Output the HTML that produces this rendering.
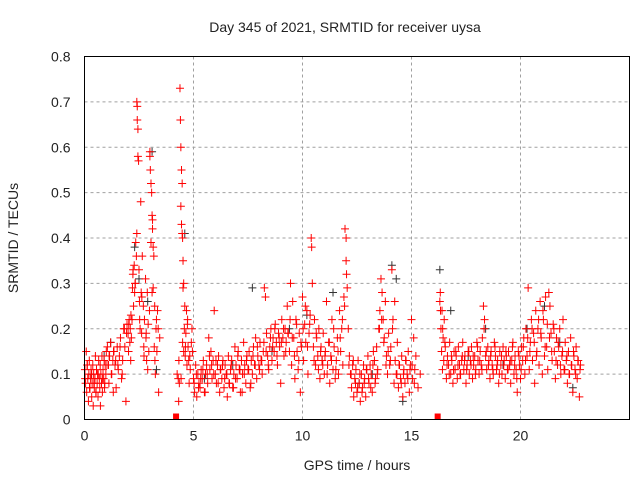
<!DOCTYPE html>
<html><head><meta charset="utf-8"><style>
body{margin:0;background:#fff}
svg text{font-family:"Liberation Sans",sans-serif;font-size:14px;fill:#222}
</style></head><body>
<svg id="chart" width="640" height="480" xmlns="http://www.w3.org/2000/svg">
<rect width="640" height="480" fill="#fff"/>
<text x="345" y="32" text-anchor="middle">Day 345 of 2021, SRMTID for receiver uysa</text>
<g id="grid"></g>
<g id="ticks"></g>
<g id="marks"></g>
<rect x="84.5" y="56.5" width="545" height="363" fill="none" stroke="#000" stroke-width="1"/>
<text x="357" y="470" text-anchor="middle">GPS time / hours</text>
<text transform="translate(18,238) rotate(-90)" text-anchor="middle">SRMTID / TECUs</text>
</svg>
<script>
const xTicks=[0,5,10,15,20];
const yTicks=[0,0.1,0.2,0.3,0.4,0.5,0.6,0.7,0.8];
const yTickLabels=["0","0.1","0.2","0.3","0.4","0.5","0.6","0.7","0.8"];
const redT=[0.02,0.05,0.08,0.1,0.12,0.15,0.18,0.2,0.22,0.25,0.28,0.3,0.33,0.35,0.38,0.4,0.42,0.45,0.48,0.5,0.52,0.55,0.58,0.6,0.62,0.65,0.68,0.7,0.72,0.75,0.78,0.8,0.82,0.85,0.88,0.9,0.92,0.95,0.98,1.0,
1.05,1.1,1.12,1.15,1.2,1.25,1.3,1.32,1.35,1.4,1.45,1.5,1.55,1.6,1.65,1.7,1.75,1.8,1.85,1.9,1.95,2.0,2.02,2.05,2.08,2.1,2.12,2.15,2.18,2.2,
2.22,2.25,2.28,2.3,2.32,2.35,2.38,2.4,2.4,2.42,2.42,2.45,2.45,2.48,2.5,2.52,2.55,2.58,2.6,2.62,2.65,2.7,2.72,2.75,2.8,2.82,2.85,2.88,2.9,2.92,
2.95,2.98,3.0,3.0,3.02,3.05,3.05,3.08,3.1,3.1,3.12,3.12,3.15,3.15,3.18,3.2,3.22,3.25,3.28,3.3,3.32,3.35,3.4,3.45,
4.25,4.3,4.32,4.35,4.38,4.4,4.42,4.42,4.45,4.45,4.48,4.48,4.5,4.5,4.52,4.52,4.55,4.55,4.58,4.6,4.62,4.65,4.68,4.7,4.72,4.75,4.78,4.8,4.85,4.9,4.95,
5.0,5.05,5.1,5.15,5.2,5.25,5.3,5.35,5.4,5.45,5.5,5.55,5.6,5.65,5.7,5.75,5.8,5.85,5.9,5.95,6.0,6.05,6.1,6.15,6.2,6.25,6.3,6.35,6.4,6.45,
6.5,6.55,6.6,6.65,6.7,6.75,6.8,6.85,6.9,6.95,7.0,7.05,7.1,7.15,7.2,7.25,7.3,7.35,7.4,7.45,7.5,7.55,7.6,7.65,7.7,7.75,7.8,7.85,7.9,7.95,
8.0,8.05,8.1,8.15,8.2,8.25,8.3,8.35,8.4,8.45,8.5,8.55,8.6,8.65,8.7,8.75,8.8,8.85,8.9,8.95,9.0,9.05,9.1,9.15,9.2,9.25,9.3,9.35,9.4,9.45,
9.5,9.55,9.6,9.65,9.7,9.75,9.8,9.85,9.9,9.95,10.0,10.05,10.1,10.15,10.2,10.25,10.3,10.35,10.4,10.42,10.45,10.5,10.55,10.6,10.65,10.7,10.75,10.8,10.85,10.9,
10.95,11.0,11.05,11.1,11.15,11.2,11.25,11.3,11.35,11.4,11.45,11.5,11.55,11.6,11.65,11.7,11.75,11.8,11.85,11.9,11.95,12.0,12.0,12.02,12.05,12.1,12.15,12.2,12.25,12.3,
12.35,12.4,12.45,12.5,12.55,12.6,12.65,12.7,12.75,12.8,12.85,12.9,12.95,13.0,13.05,13.1,13.15,13.2,13.25,13.3,13.35,13.4,13.45,13.5,13.55,13.6,13.65,13.7,13.75,13.8,
13.85,13.9,13.95,14.0,14.05,14.1,14.15,14.2,14.25,14.3,14.35,14.4,14.45,14.5,14.55,14.6,14.65,14.7,14.75,14.8,14.85,14.9,14.95,15.0,15.05,15.1,15.15,15.2,15.3,15.4,
16.3,16.32,16.35,16.38,16.4,16.42,16.45,16.48,16.5,16.55,16.6,16.65,16.7,16.75,16.8,16.85,16.9,16.95,17.0,17.05,17.1,17.15,17.2,17.25,17.3,17.35,17.4,17.45,17.5,17.55,
17.6,17.65,17.7,17.75,17.8,17.85,17.9,17.95,18.0,18.05,18.1,18.15,18.2,18.25,18.3,18.35,18.4,18.45,18.5,18.55,18.6,18.65,18.7,18.75,18.8,18.85,18.9,18.95,19.0,19.05,
19.1,19.15,19.2,19.25,19.3,19.35,19.4,19.45,19.5,19.55,19.6,19.65,19.7,19.75,19.8,19.85,19.9,19.95,20.0,20.05,20.1,20.15,20.2,20.25,20.3,20.35,20.4,20.45,20.5,20.55,
20.6,20.65,20.7,20.75,20.8,20.85,20.9,20.95,21.0,21.05,21.1,21.15,21.2,21.25,21.3,21.35,21.4,21.45,21.5,21.55,21.6,21.65,21.7,21.75,21.8,21.85,21.9,21.95,22.0,22.05,
22.1,22.15,22.2,22.25,22.3,22.35,22.4,22.45,22.5,22.55,22.6,22.65,22.7,22.75];
const redV=[0.11,0.08,0.15,0.06,0.12,0.09,0.04,0.1,0.13,0.07,0.09,0.11,0.05,0.08,0.12,0.03,0.1,0.07,0.09,0.14,0.06,0.11,0.08,0.1,0.05,0.13,0.09,0.07,0.12,0.1,0.08,0.14,0.06,0.11,0.09,0.13,0.07,0.12,0.1,0.15,
0.16,0.12,0.08,0.14,0.17,0.1,0.13,0.06,0.15,0.12,0.07,0.16,0.11,0.14,0.18,0.09,0.13,0.2,0.16,0.04,0.21,0.19,0.15,0.22,0.17,0.2,0.13,0.18,0.22,0.29,
0.32,0.25,0.34,0.28,0.3,0.39,0.36,0.41,0.7,0.69,0.66,0.64,0.58,0.57,0.33,0.26,0.2,0.48,0.28,0.19,0.36,0.25,0.16,0.22,0.31,0.18,0.13,0.28,0.11,0.21,
0.15,0.24,0.59,0.58,0.55,0.39,0.52,0.5,0.45,0.28,0.44,0.42,0.38,0.29,0.36,0.16,0.25,0.1,0.2,0.22,0.15,0.24,0.06,0.18,
0.1,0.09,0.04,0.08,0.73,0.66,0.6,0.47,0.55,0.43,0.52,0.41,0.4,0.17,0.35,0.29,0.3,0.15,0.2,0.25,0.14,0.19,0.24,0.12,0.21,0.16,0.13,0.08,0.11,0.17,0.15,
0.09,0.06,0.12,0.05,0.1,0.08,0.07,0.11,0.09,0.13,0.06,0.1,0.12,0.08,0.18,0.11,0.15,0.09,0.13,0.24,0.1,0.08,0.12,0.14,0.06,0.11,0.09,0.13,0.07,0.12,
0.1,0.05,0.14,0.08,0.11,0.13,0.07,0.1,0.16,0.12,0.09,0.15,0.11,0.06,0.13,0.1,0.17,0.12,0.08,0.14,0.11,0.15,0.07,0.13,0.1,0.16,0.12,0.18,0.09,0.14,
0.12,0.17,0.13,0.1,0.15,0.29,0.27,0.19,0.14,0.11,0.16,0.2,0.13,0.18,0.15,0.21,0.17,0.12,0.19,0.16,0.08,0.22,0.18,0.14,0.2,0.17,0.25,0.19,0.15,0.3,
0.12,0.26,0.18,0.09,0.22,0.15,0.11,0.19,0.06,0.16,0.27,0.13,0.21,0.17,0.24,0.1,0.19,0.23,0.4,0.38,0.3,0.16,0.22,0.12,0.18,0.14,0.2,0.09,0.16,0.13,
0.19,0.1,0.15,0.26,0.12,0.17,0.08,0.14,0.22,0.11,0.16,0.09,0.13,0.18,0.1,0.24,0.15,0.2,0.12,0.27,0.42,0.4,0.35,0.32,0.29,0.2,0.14,0.1,0.07,0.12,
0.05,0.09,0.11,0.06,0.13,0.08,0.04,0.1,0.07,0.12,0.09,0.05,0.11,0.14,0.08,0.12,0.1,0.06,0.15,0.13,0.09,0.16,0.11,0.2,0.24,0.31,0.28,0.22,0.18,0.26,
0.14,0.1,0.19,0.12,0.16,0.33,0.22,0.08,0.13,0.1,0.17,0.07,0.12,0.09,0.14,0.05,0.11,0.08,0.13,0.1,0.15,0.06,0.12,0.22,0.09,0.18,0.11,0.14,0.07,0.1,
0.26,0.28,0.2,0.15,0.24,0.11,0.18,0.13,0.22,0.16,0.09,0.14,0.12,0.17,0.1,0.13,0.08,0.15,0.11,0.14,0.09,0.16,0.12,0.1,0.13,0.17,0.11,0.14,0.08,0.12,
0.15,0.1,0.13,0.16,0.09,0.12,0.14,0.11,0.17,0.13,0.1,0.15,0.12,0.18,0.25,0.22,0.14,0.11,0.16,0.13,0.09,0.15,0.12,0.1,0.17,0.14,0.11,0.13,0.08,0.15,
0.12,0.1,0.16,0.13,0.09,0.14,0.11,0.15,0.12,0.08,0.13,0.17,0.1,0.14,0.11,0.06,0.15,0.12,0.09,0.16,0.13,0.18,0.1,0.2,0.14,0.29,0.11,0.17,0.22,0.13,
0.19,0.08,0.24,0.15,0.2,0.12,0.26,0.18,0.1,0.22,0.14,0.27,0.16,0.11,0.28,0.25,0.19,0.13,0.21,0.15,0.09,0.18,0.12,0.16,0.2,0.1,0.14,0.22,0.11,0.17,
0.13,0.08,0.15,0.1,0.18,0.12,0.06,0.14,0.11,0.16,0.09,0.13,0.05,0.12];
/* second pass of receiver samples (denser coverage) */
const redT2=[0.03,0.13,0.23,0.33,0.43,0.53,0.63,0.73,0.83,0.93,1.03,1.13,1.23,1.33,1.43,1.53,1.63,1.73,1.83,1.93,2.03,2.13,2.23,2.33,2.53,2.63,2.73,2.83,3.23,3.38,
4.33,4.43,4.63,4.73,4.83,4.93,5.03,5.13,5.23,5.33,5.43,5.53,5.63,5.73,5.83,5.93,6.03,6.13,6.23,6.33,6.43,6.53,6.63,6.73,6.83,6.93,7.03,7.13,7.23,7.33,
7.43,7.53,7.63,7.73,7.83,7.93,8.03,8.13,8.23,8.33,8.43,8.53,8.63,8.73,8.83,8.93,9.03,9.13,9.23,9.33,9.43,9.53,9.63,9.73,9.83,9.93,10.03,10.13,10.23,10.33,
10.53,10.63,10.73,10.83,10.93,11.03,11.13,11.23,11.33,11.43,11.53,11.63,11.73,11.83,11.93,12.13,12.23,12.33,12.43,12.53,12.63,12.73,12.83,12.93,13.03,13.13,13.23,13.33,13.43,13.53,
13.63,13.73,13.83,13.93,14.03,14.13,14.23,14.33,14.43,14.53,14.63,14.73,14.83,14.93,15.03,15.13,16.33,16.43,16.53,16.63,16.73,16.83,16.93,17.03,17.13,17.23,17.33,17.43,17.53,17.63,
17.73,17.83,17.93,18.03,18.13,18.23,18.33,18.43,18.53,18.63,18.73,18.83,18.93,19.03,19.13,19.23,19.33,19.43,19.53,19.63,19.73,19.83,19.93,20.03,20.13,20.23,20.33,20.43,20.53,20.63,
20.73,20.83,20.93,21.03,21.13,21.23,21.33,21.43,21.53,21.63,21.73,21.83,21.93,22.03,22.13,22.23,22.33,22.43,22.53,22.63,22.73];
const redV2=[0.09,0.12,0.07,0.1,0.08,0.06,0.1,0.03,0.09,0.08,0.12,0.14,0.1,0.15,0.13,0.12,0.16,0.1,0.2,0.19,0.21,0.23,0.33,0.3,0.22,0.27,0.14,0.19,0.13,0.2,
0.13,0.09,0.16,0.22,0.14,0.2,0.08,0.1,0.07,0.09,0.11,0.06,0.1,0.14,0.12,0.1,0.13,0.08,0.11,0.12,0.09,0.1,0.08,0.12,0.07,0.09,0.14,0.11,0.06,0.1,
0.13,0.11,0.08,0.14,0.12,0.16,0.11,0.13,0.17,0.15,0.12,0.18,0.16,0.2,0.14,0.18,0.17,0.2,0.15,0.19,0.22,0.18,0.14,0.21,0.13,0.17,0.2,0.25,0.16,0.21,
0.13,0.19,0.11,0.15,0.12,0.14,0.1,0.17,0.13,0.2,0.11,0.15,0.18,0.22,0.25,0.12,0.1,0.13,0.08,0.07,0.1,0.06,0.08,0.11,0.09,0.07,0.12,0.08,0.1,0.2,
0.22,0.17,0.12,0.15,0.13,0.2,0.26,0.1,0.12,0.08,0.1,0.13,0.09,0.11,0.12,0.08,0.24,0.2,0.17,0.12,0.1,0.14,0.11,0.15,0.12,0.1,0.14,0.13,0.11,0.15,
0.12,0.14,0.1,0.16,0.13,0.11,0.2,0.15,0.12,0.14,0.11,0.16,0.12,0.1,0.14,0.12,0.15,0.11,0.13,0.16,0.12,0.09,0.14,0.11,0.16,0.13,0.18,0.15,0.2,0.17,
0.14,0.22,0.19,0.24,0.16,0.21,0.18,0.15,0.2,0.13,0.17,0.12,0.15,0.11,0.14,0.1,0.12,0.15,0.1,0.13,0.11];
const grayT=[0.3,0.9,1.2,2.3,2.5,2.9,3.1,3.3,4.6,5.5,6.8,7.7,8.6,9.4,10.2,10.9,11.4,12.6,13.2,14.1,14.3,14.6,16.3,16.8,17.6,18.4,19.2,20.3,21.1,21.8,22.4];
const grayV=[0.1,0.14,0.17,0.38,0.31,0.26,0.59,0.11,0.41,0.09,0.12,0.29,0.15,0.2,0.23,0.13,0.28,0.08,0.1,0.34,0.31,0.04,0.33,0.24,0.14,0.2,0.12,0.2,0.25,0.17,0.07];
const gapT=[4.2,16.2];

const X0=84.5,X1=629.5,Y0=419.5,Y1=56.5;
function sx(t){return X0+(t/25)*(X1-X0);}
function sy(v){return Y0-(v/0.8)*(Y0-Y1);}
const NS="http://www.w3.org/2000/svg";
const grid=document.getElementById('grid'),ticks=document.getElementById('ticks'),marks=document.getElementById('marks');
function mk(tag,attrs,parent){const e=document.createElementNS(NS,tag);for(const k in attrs)e.setAttribute(k,attrs[k]);parent.appendChild(e);return e;}
xTicks.forEach(t=>{const x=sx(t);
 if(t>0){const g=mk('line',{x1:x,y1:Y0,x2:x,y2:Y1,stroke:'#a0a0a0','stroke-dasharray':'3,3'},grid);
 
 }
 const l=mk('text',{x:x,y:Y0+21,'text-anchor':'middle'},ticks);l.textContent=t;
 
 
});
yTicks.forEach((v,i)=>{const y=sy(v);
 if(v>0&&v<0.8){const g=mk('line',{x1:X0,y1:y,x2:X1,y2:y,stroke:'#a0a0a0','stroke-dasharray':'3,3'},grid);
 
 }
 const l=mk('text',{x:X0-14,y:y+5,'text-anchor':'end'},ticks);l.textContent=yTickLabels[i];
 
 
});
function plus(t,v,col){const x=sx(t),y=sy(v);
 const p=mk('path',{d:`M${x-4} ${y}h8M${x} ${y-4}v8`,stroke:col,'stroke-width':1,fill:'none'},marks);return p;}
grayT.forEach((t,i)=>{const p=plus(t,grayV[i],'#333');
 
 });
redT.forEach((t,i)=>{const p=plus(t,redV[i],'#f00');
 
 });
redT2.forEach((t,i)=>{const p=plus(t,redV2[i],'#f00');
 
 });
gapT.forEach(t=>{const r=mk('rect',{x:sx(t)-3,y:Y0-6,width:6,height:6,fill:'#f00'},marks);
 
 });
</script>
</body></html>
